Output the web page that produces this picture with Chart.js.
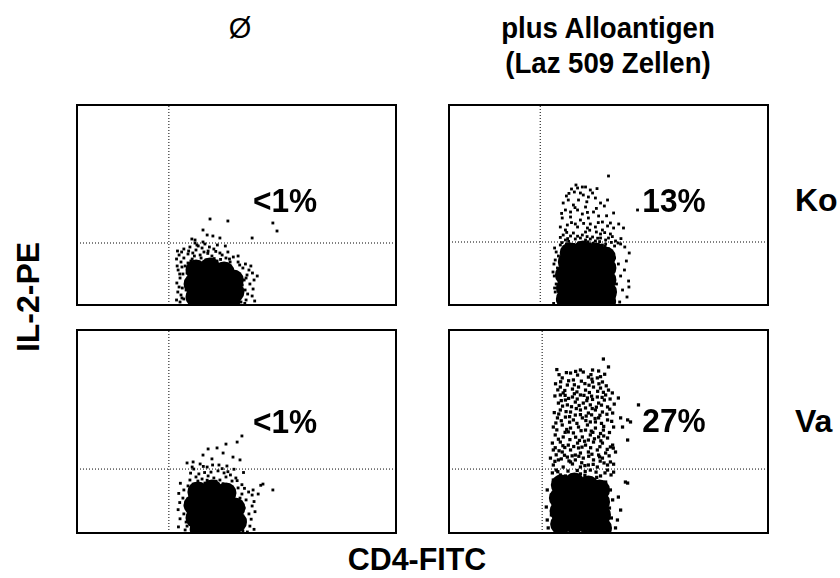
<!DOCTYPE html>
<html>
<head>
<meta charset="utf-8">
<script src="https://cdn.jsdelivr.net/npm/chart.js@4.4.1/dist/chart.umd.min.js"></script>
<style>
  body { margin: 0; background: #fff; width: 840px; height: 578px; position: relative; overflow: hidden;
         font-family: "Liberation Sans", Arial, Helvetica, sans-serif; color: #000; }
  .box { position: absolute; }
  .lbl { position: absolute; font-weight: bold; white-space: nowrap; line-height: 1; }
</style>
</head>
<body>

<div class="lbl" style="left:240px; top:28px; font-weight:normal; font-size:29px; transform:translate(-50%,-50%);" id="colA"></div>
<div class="lbl" style="left:608px; top:28px; font-size:30px; transform:translate(-50%,-50%) scaleX(0.92);" id="colB1"></div>
<div class="lbl" style="left:608px; top:63px; font-size:30px; transform:translate(-50%,-50%) scaleX(0.92);" id="colB2"></div>
<div class="lbl" style="left:795px; top:200px; font-size:32px; transform:translate(0,-50%);" id="rowA"></div>
<div class="lbl" style="left:795px; top:421px; font-size:32px; transform:translate(0,-50%);" id="rowB"></div>
<div class="lbl" style="left:28px; top:297px; font-size:32px; transform:translate(-50%,-50%) rotate(-90deg);" id="yTitle"></div>
<div class="lbl" style="left:417px; top:559px; font-size:32px; transform:translate(-50%,-50%) scaleX(0.95);" id="xTitle"></div>

<div class="box" style="left:75px; top:103px; width:323px; height:204px;"><canvas id="p0"></canvas></div>
<div class="box" style="left:447px; top:103px; width:323px; height:204px;"><canvas id="p1"></canvas></div>
<div class="box" style="left:75px; top:328px; width:323px; height:207px;"><canvas id="p2"></canvas></div>
<div class="box" style="left:447px; top:328px; width:323px; height:207px;"><canvas id="p3"></canvas></div>

<div class="lbl" style="left:285px; top:200px; font-size:34px; transform:translate(-50%,-50%) scaleX(0.93);" id="pct0"></div>
<div class="lbl" style="left:674px; top:200px; font-size:34px; transform:translate(-50%,-50%) scaleX(0.93);" id="pct1"></div>
<div class="lbl" style="left:285px; top:421px; font-size:34px; transform:translate(-50%,-50%) scaleX(0.93);" id="pct2"></div>
<div class="lbl" style="left:674px; top:420px; font-size:34px; transform:translate(-50%,-50%) scaleX(0.93);" id="pct3"></div>

<script>
// Beschriftungen
const spalten = ['Ø', 'plus Alloantigen', '(Laz 509 Zellen)'];
const zeilen = ['Ko', 'Va'];
const achsen = ['CD4-FITC', 'IL-2-PE'];
const prozente = ['<1%', '13%', '<1%', '27%'];

// Quadrantengrenzen (Kanal 0-100) je Panel
const gateX = [28.8, 28.6, 28.8, 29.2];
const gateY = [31, 31.5, 31.5, 31.5];

// Ko, ohne Antigen: dichter Kern und Einzelereignisse
const koKern = [[37.3,17.5],[41.7,18.5],[46.1,16.5],[49,12.5],[36.7,10.5],[41.1,11.5],[45.5,10.5],
  [49.2,6.5],[37.3,4],[41.7,4.5],[46.1,3.5],[48,2.5],[39.5,14.5],[43.8,14],[39,7.5],[43.5,7.5]];
const koPunkte = [[32,25],[32.6,21.5],[31.7,17.5],[32.3,13.5],[32,9],[32.6,5],[32.3,1.5],[33.5,23.5],
  [33.9,19.5],[33.2,15.5],[34.2,7.5],[33.5,3],[34.5,11],[33.5,28],[35.4,29],[37.3,27.5],[39.2,28.5],
  [41.1,27],[42.9,28],[34.8,25.5],[38.6,25],[42.3,24.5],[44.8,26],[46.7,23.5],[36.1,23],[40.4,22.5],
  [43.9,22],[48,21.5],[37.6,30],[40.1,30.5],[52,18.5],[53.3,15],[54.2,10.5],[52.7,7.5],[54.9,4.5],
  [51.4,1.5],[53,2.5],[50.5,21.5],[52.4,12.5],[53.9,17.5],[41.7,43],[47.3,42],[61.4,41],[62.7,37],
  [39.5,37.5],[40.8,35],[42.6,34.5],[44.8,33.5],[54.9,33.5],[36,33],[37,32.5],
  [31.5,27],[32.8,26.5],[31.2,23],[32.9,19],[31.4,19.5],[32.2,15.5],[31.3,11],[33,8.5],[31.6,6.5],
  [32.9,3.5],[31.2,2.5],[34.5,16],[34.8,21],[35,27],[36.3,26],[38,29.5],[39.8,26.5],[41.5,29],
  [43.5,26.8],[45.5,25],[47.3,26.5],[49,24],[36.8,24.5],[38.9,23.5],[41,25.8],[43,23.2],[45,22.8],
  [47.8,23],[35.7,22],[50.5,24.5],[37,31],[44,30],[39.5,31.5],[46.5,29.5],[51,20],[52.8,20.5],[55,16],
  [53,13.5],[55.5,12.5],[51.8,10],[55.2,8],[53.5,5.5],[55.7,2],[52.6,0.8],[56.5,14.5],[54.5,19.5]];

// Ko, plus Alloantigen
const koAgKern = [[37.4,21.5],[41.8,22.5],[46.2,21.5],[49.2,18.5],[36.5,15],[40.9,15.5],[45.3,15.5],
  [49.2,12.5],[36.8,8.5],[41.2,9],[45.6,8.5],[49.4,6.5],[36.8,3],[41.2,3],[45.6,3],[49.1,2],
  [38,26],[42,27],[46,26],[49,24]];
const koAgPunkte = [[33.6,26.5],[33.3,22.5],[34,18.5],[33,14.5],[33.6,10.5],[33.3,6.5],[34,2.5],
  [34.3,24.5],[34.6,12.5],[34.3,4.5],[34.9,30],[36.8,30.5],[38.7,29],[40.6,31],[42.5,29.5],[44.3,30.5],
  [46.2,29],[48.1,30],[50,28],[51.9,29.5],[35.8,27.5],[39.6,27],[43.4,27.5],[47.2,26.5],[50.9,26],
  [37.7,28.5],[45.3,28],[49.1,30.5],[53.8,30.5],[51.9,23.5],[53.1,20.5],[51.6,17.5],[53.8,14.5],
  [52.5,10.5],[54.4,7.5],[51.9,4.5],[53.5,1.5],[55,17.5],[51.3,2.5],[50,64.5],[38.4,58],[40.3,58.5],
  [41.8,59],[42.8,59],[41.2,56],[42.1,55],[45,56],[43.7,54],[35.8,51],[37.4,52.5],[39,50],[47.5,51],
  [49.7,52.5],[36.5,47.5],[40.3,47.5],[42.8,49],[45.3,46.5],[51.6,46],[35.5,43.5],[38.1,44],[41.2,42.5],
  [43.7,43.5],[48.1,41.5],[50.6,41],[59.1,47.5],[34.9,39],[37.1,40],[40.3,39],[43.4,38.5],[45.9,39],
  [48.1,37.5],[51.6,38.5],[54.7,38.5],[35.8,35],[39,36],[41.8,35],[45,34],[47.5,35.5],[50,33.5],
  [36.5,32.5],[39.6,33],[42.8,32.5],[45.9,32],[49.1,32.5],[52.2,32],[38.1,34.5],[44.3,33],[56.3,12],
  [39.3,56.5],[44.3,57.5],[36.8,54.5],[40.6,52.5],[45.9,53.5],[48.7,49.5],[38.1,46.5],[41.8,45.5],
  [46.9,44.5],[39.6,40.5],[44.3,40.5],[49.7,39.5],[36.5,37.5],[42.8,36.5],[46.2,36.5],[41.2,33.5],
  [47.5,33.5],[50.6,35.5],
  [35.4,31.2],[37.5,31.8],[39.1,30.3],[41.5,30.1],[43.6,31.6],[45.2,30.9],[47.2,31.7],[48.9,29.3],
  [50.9,31.3],[53,31],[55.1,29],[56.5,26],[55.6,22],[56.4,9],[55.8,4],[33.1,28.5],[32.9,20.5],
  [32.6,16.5],[33.1,8.5],[32.8,0.8],[34.9,33.8],[37.2,33.2],[40.3,34.4],[43.3,34.2],[46.6,33.4],
  [51.2,34.2],[53.9,33.2],[36.9,36.3],[44.1,37.4],[48.8,36.2],[38.4,41.2],[42.2,40.8],[46.8,41.2],
  [53.2,40.5],[35.3,45.8],[43.4,46.3],[49.4,44.6],[39.5,48.7],[46.2,48.3],[37.6,55.8],[43.2,51.6],
  [46.4,58.2],[39.8,60]];

// Va, ohne Antigen
const vaKern = [[37.9,20.2],[42.3,21.2],[46.7,19.7],[36.7,13.8],[41.1,14.8],[45.5,14.3],[49.5,12.3],
  [37.3,7.4],[41.7,7.9],[46.1,7.4],[50,5.4],[38.6,2],[42.9,2],[47.3,1.5]];
const vaPunkte = [[33.5,21.2],[33.2,17.2],[33.9,13.3],[33.5,9.4],[34.2,5.4],[33.9,1.5],[34.8,23.2],
  [35.1,10.3],[34.5,3.4],[35.4,26.1],[37.3,27.6],[39.2,26.6],[41.1,28.1],[42.9,27.1],[44.8,26.1],
  [46.7,27.6],[48.6,25.6],[36.4,24.1],[40.1,24.6],[43.9,23.6],[47.6,23.2],[50.5,22.2],[38.2,29.1],
  [42,30],[46.1,29.6],[49.8,27.1],[51.7,19.2],[53,16.3],[52.4,12.3],[53.9,9.4],[52.7,6.4],[54.2,3.4],
  [52,1],[51.1,17.2],[54.9,13.3],[51.7,47.8],[50.2,44.8],[46.7,43.8],[43.9,41.9],[41.1,41.4],[45.8,39.4],
  [48.9,37.4],[51.1,36],[39.5,38.4],[42.3,36.5],[36.4,35],[34.5,34.5],[38.6,34],[44.5,33.5],[47,33],
  [36.1,32.5],[40.8,32.5],[58.3,24.1],[61.4,21.2],[55.2,21.2],[54.9,18.7],
  [32.4,24.5],[31.9,19.5],[32.2,15],[31.7,11.5],[32.3,7],[31.8,3],[35.6,29.5],[37.9,25.6],[40.8,26],
  [43.6,25.5],[45.8,24.3],[48.1,28.6],[50.2,25.8],[52.5,22],[51.7,23.8],[53.8,20.2],[55.5,15.5],
  [55.8,10.5],[54.6,6.8],[55.5,1.8],[53.4,0.5],[40,29.8],[44.2,30.6],[47.3,30.2],[36.6,31.5],
  [39.6,32.8],[42.5,33.5],[45.5,31.7],[49.2,31.4],[52.2,29.8],[56.8,19.2],[57.6,23.5]];

// Va, plus Alloantigen
const vaAgKern = [[35.2,23.6],[39.3,24.6],[43.7,23.2],[47.2,21.2],[34.6,17.2],[38.7,17.7],[43.1,17.2],
  [47.2,15.3],[34.8,10.8],[39,11.3],[43.4,10.8],[47.5,8.9],[35,4.4],[39.3,4.9],[43.7,4.4],[47.8,2.5]];
const vaAgPunkte = [[48.4,85.7],[50,81.8],[41.2,80.3],[42.1,79.3],[45,80.3],[46.9,79.8],[38.1,78.8],
  [40.3,77.8],[35.5,76.4],[39,75.4],[43.7,76.8],[46.5,76.4],[48.1,74.4],[34.9,71.9],[37.1,72.9],
  [40.6,71.9],[42.8,70.4],[45.3,71.9],[47.5,71.4],[50,70.4],[35.8,69],[38.7,67],[41.2,68],[43.4,66.5],
  [46.5,67],[49.1,68],[53.1,66.5],[34.3,64],[37.1,63.1],[39.6,64.5],[42.1,64],[44.3,63.1],[46.9,64],
  [49.7,62.1],[34.9,60.6],[38.1,59.6],[41.2,60.6],[43.7,59.1],[45.9,60.6],[48.1,59.6],[51.3,59.1],
  [56.9,54.7],[53.8,56.7],[34,56.7],[36.5,57.1],[39,55.7],[41.8,56.7],[44.3,54.7],[46.9,56.7],[49.7,55.7],
  [32.7,52.2],[35.5,53.2],[38.1,51.7],[40.6,52.2],[43.4,53.2],[45.9,51.7],[48.4,50.7],[51.6,52.2],
  [33.3,48.3],[35.8,47.3],[39,49.3],[41.8,47.3],[44.3,48.3],[46.9,47.3],[49.7,46.8],[56,45.8],
  [32.4,44.3],[34.9,44.8],[37.4,43.3],[40.3,44.3],[42.8,43.3],[45.3,44.8],[48.1,44.3],[50.6,42.4],
  [32.7,40.9],[35.5,39.9],[38.1,40.9],[41.2,39.4],[43.7,39.9],[46.5,40.9],[49.1,39.4],[52.2,39.9],
  [31.8,36.9],[34.3,36],[37.1,37.4],[39.6,36],[42.1,36.9],[45.3,36],[48.1,36.9],[50.6,35],
  [32.7,33.5],[35.8,32.5],[38.7,34],[41.2,32.5],[43.7,33.5],[46.5,32.5],[49.7,33.5],
  [36.5,65.5],[42.8,61.6],[39.6,58.1],[45.9,54.7],[37.4,49.8],[43.7,45.8],[40.6,41.9],[46.9,38.4],
  [38.1,35],[44.3,31],[34.9,28.6],[41.2,29.1],[47.5,28.1],[33.6,31],[39.6,38.4],[42.8,50.7],[34.9,68],
  [45,74.4],[38.7,70.9],[48.7,65.5],[59.4,63.1],[56,55.7],[54.4,52.2],[51.3,43.3],
  [55.3,25.1],[32.4,29.6],[51.6,30],[49.7,31],[53.1,17.7],[53.8,11.3],[52.8,6.4],[52.2,2.5],
  [30.8,21.2],[30.5,12.8],[30.8,6.4],[31.1,2.5],[56,24.6],[32.7,26.1],[32.1,18.7],[32.7,13.8],
  [32.1,8.9],[32.7,3.4],[36.5,28.1],[39.6,27.1],[44.3,26.6],[49.1,25.1],[50.6,21.2],[51.3,16.3],
  [50.3,12.3],[50.9,7.4],[50,1.5],
  [33.8,80.5],[36.8,79],[44.5,78],[48.8,78.2],[37.5,75],[41.5,74.8],[44.8,75.8],[33.4,73.5],[39.3,73],
  [43.9,72.8],[47,73.5],[36.3,70.2],[40.1,69.5],[44,69.2],[48.4,69.3],[33.2,67.5],[37.5,66.3],
  [42.3,67.8],[45,65.8],[50.5,66],[35.6,62.5],[40.8,62.8],[46.2,62],[51.8,63.5],[33,59.3],[36.7,59.8],
  [39.9,61.3],[44.7,58.2],[49.5,58.5],[35.2,55.3],[37.8,54.6],[42.9,55.4],[47.8,54],[51,55],
  [33.8,50.8],[36.9,51],[41.4,50.4],[44.6,50.2],[50.3,49.5],[34.3,46.2],[37.9,46],[40.9,45.6],
  [45.6,46.4],[48.5,47.8],[33.3,42],[36.3,42.1],[39.1,42.6],[44.4,42],[47.3,42.5],[51.5,41.8],
  [33.6,38.5],[36.2,38.3],[40.7,37.8],[43.8,37.8],[47.2,37.5],[50.2,38],[33.2,35.3],[37.6,35.5],
  [41.6,34.6],[45.2,33.8],[48.6,34.5],[51.6,33.9],[34.1,30.2],[37.3,30.5],[40.2,30.8],[42.7,30.3],
  [46.1,30],[48.9,29.6],[50.8,28.6],[33.9,26.9],[38.3,28],[42.6,28.4],[46.3,27.4],
  [34.5,78],[39.7,79.6],[47.5,77],[35,74.5],[42.6,73.6],[49.3,72.5],[34.1,70.5],[39.3,68.6],[46.6,69.8],
  [51.2,69],[36.4,67.8],[44.7,67.4],[48,66.8],[35.2,65.2],[40.2,66],[43.2,65.2],[47.8,63],[38.4,62.2],
  [44.9,61.3],[50.4,61],[34.4,58.6],[41.2,58.3],[47.3,58],[37.8,57.3],[43,57.6],[45.8,56.4],[33.5,54.2],
  [40.1,54],[48.5,52.5],[36.4,49.6],[45.1,49.6],[47.5,49],[39.7,47.2],[42.5,45.2],[47.6,45.4],[35.7,43],
  [41.7,42.3],[49.6,41.2],[34.5,40.5],[44.8,38.8],[38.6,38],[42.6,33.2],[35.2,36.5],[47.4,35.4]];

const kerne = [koKern, koAgKern, vaKern, vaAgKern];
const punkte = [koPunkte, koAgPunkte, vaPunkte, vaAgPunkte];

// Texte setzen
document.getElementById('colA').textContent = spalten[0];
document.getElementById('colB1').textContent = spalten[1];
document.getElementById('colB2').textContent = spalten[2];
document.getElementById('rowA').textContent = zeilen[0];
document.getElementById('rowB').textContent = zeilen[1];
document.getElementById('xTitle').textContent = achsen[0];
document.getElementById('yTitle').textContent = achsen[1];
prozente.forEach((p, i) => document.getElementById('pct' + i).textContent = p);

// Rahmen um die Plotflaeche
const rahmen = {
  id: 'rahmen',
  afterDraw(chart) {
    const a = chart.chartArea, ctx = chart.ctx;
    ctx.save();
    ctx.strokeStyle = '#000';
    ctx.lineWidth = 2;
    ctx.strokeRect(a.left, a.top, a.right - a.left, a.bottom - a.top);
    ctx.restore();
  }
};

const toXY = arr => arr.map(p => ({ x: p[0], y: p[1] }));

for (let i = 0; i < 4; i++) {
  new Chart(document.getElementById('p' + i), {
    type: 'scatter',
    data: {
      datasets: [
        {
          type: 'line', data: [{ x: gateX[i], y: 0 }, { x: gateX[i], y: 100 }],
          borderColor: '#000', borderWidth: 1, borderDash: [1, 2], pointRadius: 0, clip: 0
        },
        {
          type: 'line', data: [{ x: 0, y: gateY[i] }, { x: 100, y: gateY[i] }],
          borderColor: '#000', borderWidth: 1, borderDash: [1, 2], pointRadius: 0, clip: 0
        },
        {
          data: toXY(kerne[i]), backgroundColor: '#000', borderWidth: 0,
          pointStyle: 'circle', pointRadius: 10.5, clip: 0
        },
        {
          data: toXY(punkte[i]), backgroundColor: '#000', borderWidth: 0,
          pointStyle: 'rect', pointRadius: i === 3 ? 2.3 : 2.0, clip: 0
        }
      ]
    },
    options: {
      responsive: true,
      maintainAspectRatio: false,
      animation: false,
      events: [],
      layout: { padding: 2, autoPadding: false },
      plugins: { legend: { display: false }, tooltip: { enabled: false } },
      scales: {
        x: { type: 'linear', min: 0, max: 100, display: false },
        y: { type: 'linear', min: 0, max: 100, display: false }
      }
    },
    plugins: [rahmen]
  });
}
</script>
</body>
</html>
